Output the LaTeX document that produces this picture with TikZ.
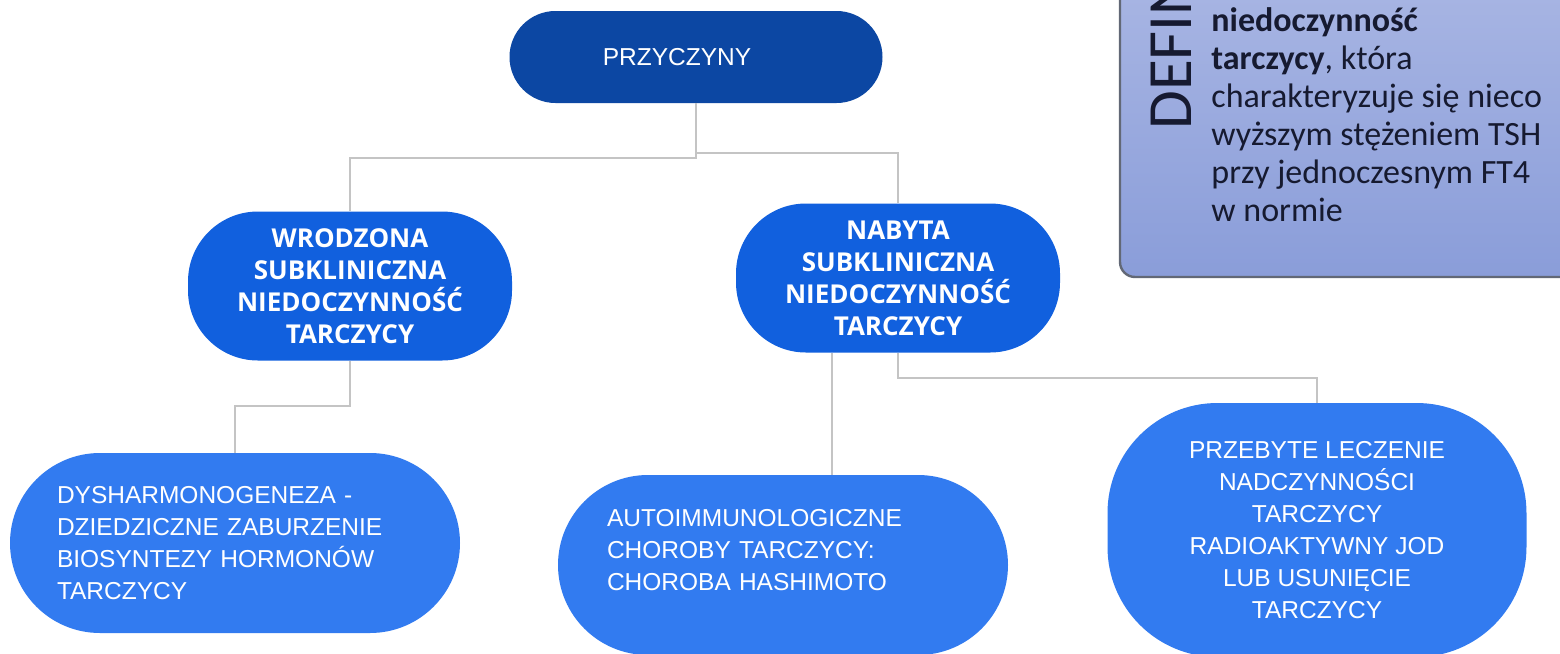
\documentclass[tikz,border=0pt]{standalone}
\usepackage{fontspec}
\setmainfont{Liberation Sans}
\newfontfamily\headfont{Open Sans}
\newfontfamily\deffont{Carlito}
\usepackage{xcolor}
\usepackage{tikz}
\definecolor{topblue}{RGB}{12, 71, 163}
\definecolor{midblue}{RGB}{17, 96, 222}
\definecolor{leafblue}{RGB}{50, 123, 240}
\definecolor{linegray}{RGB}{196, 196, 196}
\definecolor{deftop}{RGB}{170, 183, 228}
\definecolor{defbot}{RGB}{138, 157, 217}
\definecolor{defline}{RGB}{98, 104, 118}
\definecolor{deftext}{RGB}{22, 26, 48}

\begin{document}
\begin{tikzpicture}[
  x=0.5pt, y=-0.5pt,
  root/.style={rectangle, fill=topblue, rounded corners=23pt, minimum width=186.5pt, minimum height=46pt, text=white, font=\fontsize{12.25}{16}\selectfont},
  branch/.style={rectangle, fill=midblue, rounded corners=35pt, minimum width=162pt, minimum height=74.5pt, align=center, text=white, font=\headfont\bfseries\fontsize{13}{16}\selectfont},
  leaf/.style={rectangle, fill=leafblue, rounded corners=45pt, minimum width=225pt, minimum height=90pt, text=white, font=\fontsize{12.25}{16}\selectfont},
  conn/.style={draw=linegray, line width=1pt}
]
  \useasboundingbox (0,0) rectangle (1560,654);
  \clip (0,0) rectangle (1560,654);
  \fill[white] (0,0) rectangle (1560,654);

  % Definition box
  \draw[defline, line width=1.2pt, rounded corners=7.5pt, top color=deftop, bottom color=defbot] (1120,-40) rectangle (1620,277);
  \node[rotate=90, anchor=base west, inner sep=0, text=deftext, font=\deffont\fontsize{31.5}{31.5}\selectfont] (defhead) at (1191,130) {DEFINICJA};
  \node[anchor=south west, inner sep=0, align=left, text=deftext, font=\deffont\fontsize{17}{19}\selectfont] (deftxt) at (1211,222)
    {\textbf{niedoczynność}\\ \textbf{tarczycy}, która\\ charakteryzuje się nieco\\ wyższym stężeniem TSH\\ przy jednoczesnym FT4\\ w normie};

  % Nodes
  \node[root] (przyczyny) at (696,57) {PRZYCZYNY\hspace{19pt}\null};
  \node[branch] (wrodzona) at (350,286) {WRODZONA\\ SUBKLINICZNA\\ NIEDOCZYNNOŚĆ\\ TARCZYCY};
  \node[branch] (nabyta) at (898,278) {NABYTA\\ SUBKLINICZNA\\ NIEDOCZYNNOŚĆ\\ TARCZYCY};
  \node[leaf, text width=178pt, align=left] (dysh) at (235,543) {DYSHARMONOGENEZA -\\ DZIEDZICZNE ZABURZENIE\\ BIOSYNTEZY HORMONÓW\\ TARCZYCY};
  \node[leaf, text width=176pt, align=left] (auto) at (783,565) {AUTOIMMUNOLOGICZNE\\ CHOROBY TARCZYCY:\\ CHOROBA HASHIMOTO\\[-1.2pt]\mbox{}};
  \node[leaf, minimum width=209.5pt, minimum height=127pt, rounded corners=55pt, align=center] (przebyte) at (1317,530) {PRZEBYTE LECZENIE\\ NADCZYNNOŚCI\\ TARCZYCY\\ RADIOAKTYWNY JOD\\ LUB USUNIĘCIE\\ TARCZYCY};

  % Paths
  \draw[conn] (przyczyny.south) -- ++(0,55) -| (wrodzona.north);
  \draw[conn] (przyczyny.south) -- ++(0,50) -| (nabyta.north);
  \draw[conn] (wrodzona.south) -- ++(0,45) -| (dysh.north);
  \draw[conn] ([xshift=-33pt]nabyta.south) -- ([xshift=-33pt]nabyta.south |- auto.north);
  \draw[conn] (nabyta.south) -- ++(0,25) -| (przebyte.north);
\end{tikzpicture}
\end{document}
